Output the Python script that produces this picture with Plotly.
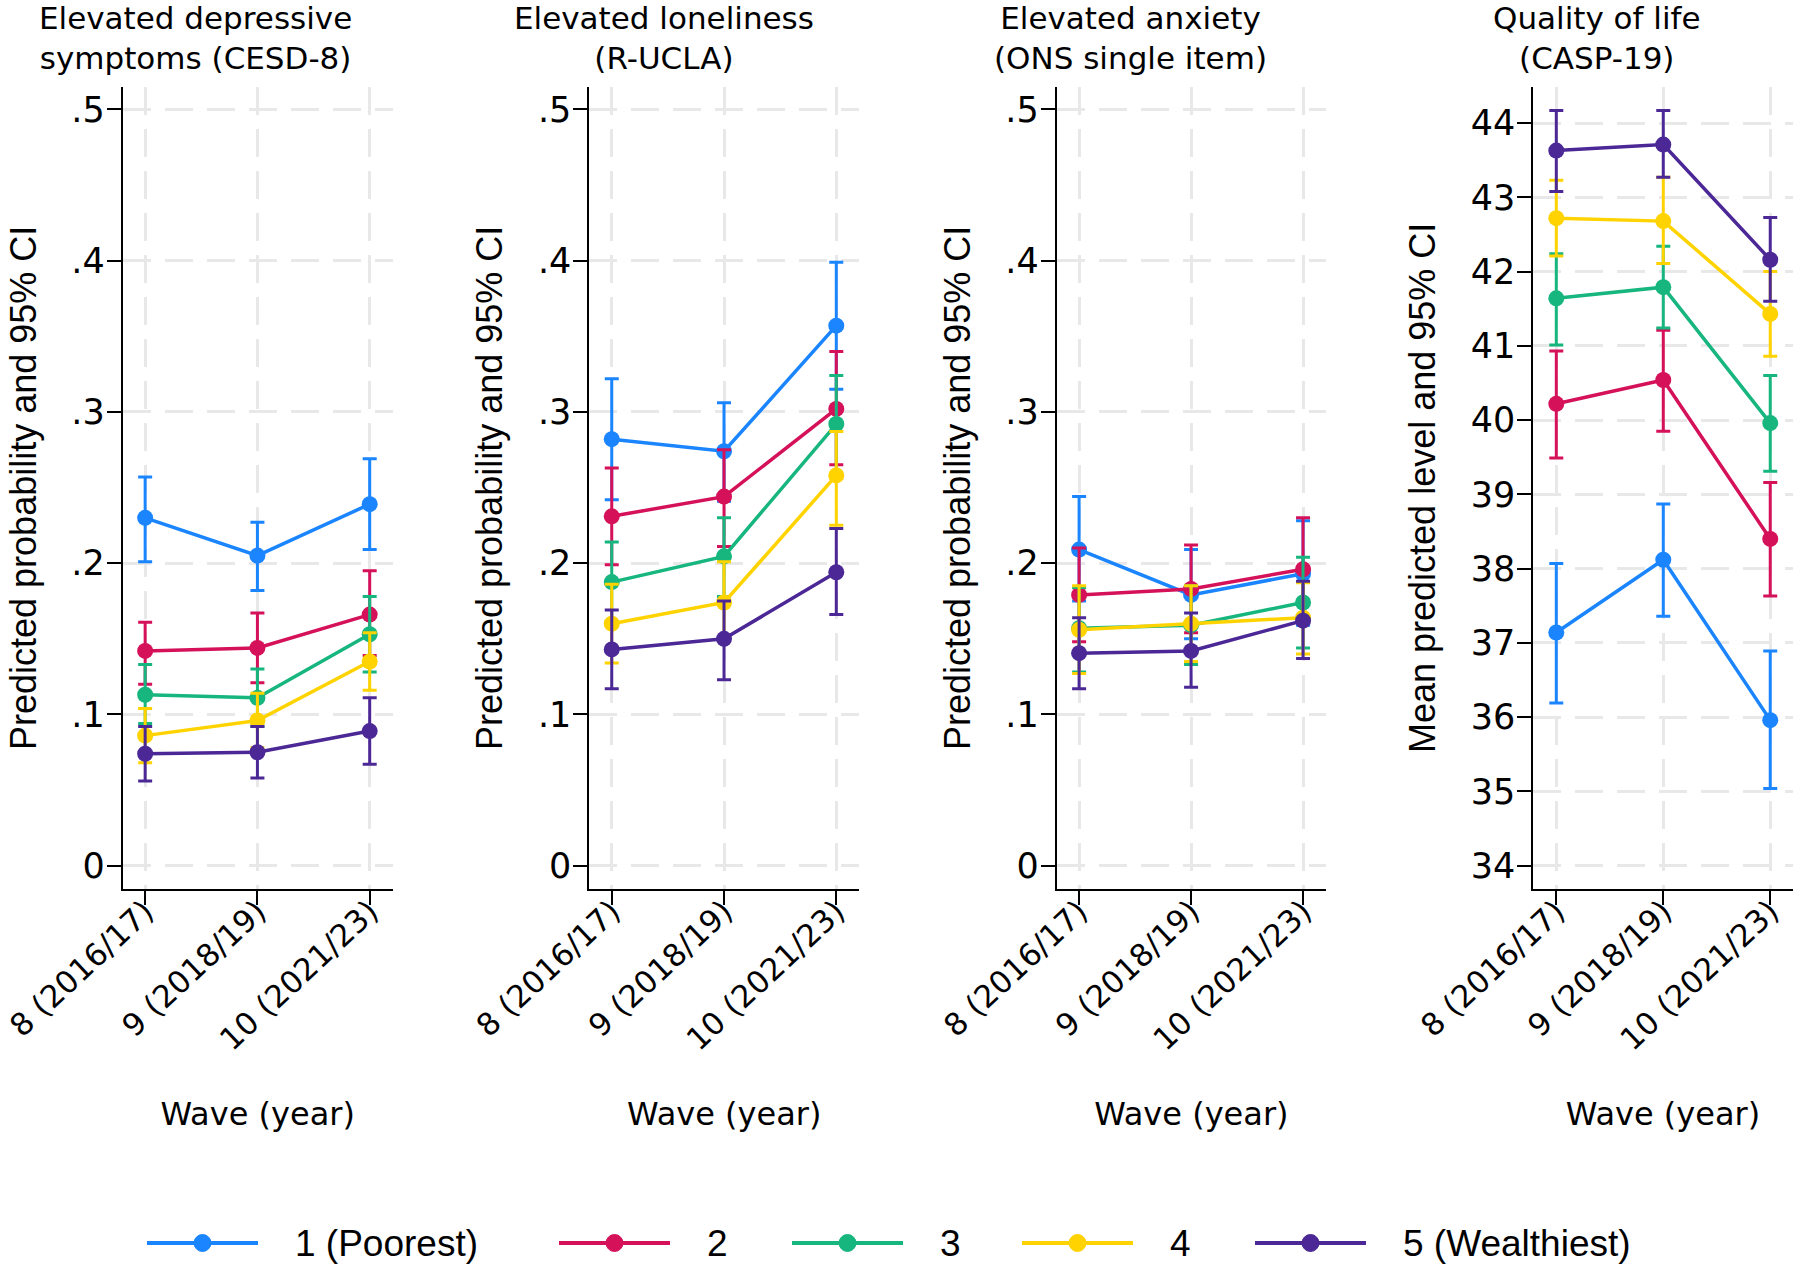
import plotly.graph_objects as go

# ---------------- data ----------------
waves = ["8 (2016/17)", "9 (2018/19)", "10 (2021/23)"]
groups = ["1 (Poorest)", "2", "3", "4", "5 (Wealthiest)"]
colors = ["#1A85FF", "#D41159", "#17B67F", "#FFD300", "#4B2896"]

panel_titles = [
    "Elevated depressive<br>symptoms (CESD-8)",
    "Elevated loneliness<br>(R-UCLA)",
    "Elevated anxiety<br>(ONS single item)",
    "Quality of life<br>(CASP-19)",
]
y_titles = [
    "Predicted probability and 95% CI",
    "Predicted probability and 95% CI",
    "Predicted probability and 95% CI",
    "Mean predicted level and 95% CI",
]
x_title = "Wave (year)"

prob_ticks = [0, 0.1, 0.2, 0.3, 0.4, 0.5]
prob_ticktext = ["0", ".1", ".2", ".3", ".4", ".5"]
casp_ticks = [34, 35, 36, 37, 38, 39, 40, 41, 42, 43, 44]
casp_ticktext = ["34", "35", "36", "37", "38", "39", "40", "41", "42", "43", "44"]

# Elevated depressive symptoms (CESD-8): estimate, lower, upper per group
cesd_est = [[0.230, 0.205, 0.239], [0.142, 0.144, 0.166], [0.113, 0.111, 0.153],
            [0.086, 0.096, 0.135], [0.074, 0.075, 0.089]]
cesd_lo = [[0.201, 0.182, 0.209], [0.120, 0.121, 0.139], [0.094, 0.092, 0.128],
           [0.068, 0.078, 0.116], [0.056, 0.058, 0.067]]
cesd_hi = [[0.257, 0.227, 0.269], [0.161, 0.167, 0.195], [0.133, 0.130, 0.178],
           [0.104, 0.114, 0.154], [0.092, 0.092, 0.111]]

# Elevated loneliness (R-UCLA)
ucla_est = [[0.282, 0.274, 0.357], [0.231, 0.244, 0.302], [0.1875, 0.2045, 0.292],
            [0.160, 0.174, 0.258], [0.143, 0.150, 0.194]]
ucla_lo = [[0.242, 0.241, 0.315], [0.199, 0.211, 0.265], [0.161, 0.178, 0.259],
           [0.134, 0.149, 0.225], [0.117, 0.123, 0.166]]
ucla_hi = [[0.322, 0.306, 0.399], [0.263, 0.275, 0.340], [0.214, 0.230, 0.324],
           [0.186, 0.201, 0.287], [0.169, 0.175, 0.223]]

# Elevated anxiety (ONS single item)
ons_est = [[0.209, 0.179, 0.193], [0.179, 0.183, 0.196], [0.157, 0.159, 0.174],
           [0.156, 0.160, 0.164], [0.1405, 0.142, 0.162]]
ons_lo = [[0.175, 0.150, 0.159], [0.148, 0.154, 0.162], [0.128, 0.133, 0.144],
          [0.127, 0.135, 0.140], [0.117, 0.118, 0.137]]
ons_hi = [[0.244, 0.209, 0.228], [0.210, 0.212, 0.230], [0.184, 0.185, 0.204],
          [0.185, 0.185, 0.187], [0.164, 0.167, 0.188]]

# Quality of life (CASP-19)
casp_est = [[37.14, 38.12, 35.96], [40.22, 40.54, 38.40], [41.64, 41.79, 39.96],
            [42.72, 42.68, 41.43], [43.63, 43.71, 42.16]]
casp_lo = [[36.19, 37.36, 35.04], [39.49, 39.85, 37.63], [41.01, 41.24, 39.31],
           [42.21, 42.11, 40.86], [43.08, 43.27, 41.60]]
casp_hi = [[38.07, 38.87, 36.89], [40.93, 41.21, 39.16], [42.24, 42.34, 40.60],
           [43.23, 43.27, 42.00], [44.17, 44.17, 42.73]]

panels = [
    (cesd_est, cesd_lo, cesd_hi),
    (ucla_est, ucla_lo, ucla_hi),
    (ons_est, ons_lo, ons_hi),
    (casp_est, casp_lo, casp_hi),
]

# ---------------- layout constants ----------------
W, H = 1800, 1272
x_dom_px = [(122.7, 392.7), (589.3, 859.3), (1056.7, 1326.0), (1533.3, 1792.7)]
x_ranges = [[-0.2, 2.205], [-0.2, 2.205], [-0.2, 2.205], [-0.215, 2.21]]
y_dom = [1 - 889 / H, 1 - 86.7 / H]
y_ranges = [[-0.0154, 0.515], [-0.0154, 0.515], [-0.0154, 0.515], [33.686, 44.49]]
title_cx = [195, 664, 1130, 1597]

FONT_WIDE = "DejaVu Sans"
FONT_REG = "Liberation Sans, Arial, sans-serif"
GRID = "#E8E8E8"

fig = go.Figure()

for p, (est, lo, hi) in enumerate(panels):
    xa = "x" if p == 0 else f"x{p + 1}"
    ya = "y" if p == 0 else f"y{p + 1}"
    for g in range(len(groups)):
        fig.add_trace(go.Scatter(
            x=waves, y=est[g], xaxis=xa, yaxis=ya,
            mode="lines+markers", name=groups[g],
            legendgroup=groups[g], showlegend=False,
            line=dict(color=colors[g], width=3.5),
            marker=dict(color=colors[g], size=16),
            error_y=dict(type="data", symmetric=False,
                         array=[h - e for h, e in zip(hi[g], est[g])],
                         arrayminus=[e - l for e, l in zip(est[g], lo[g])],
                         color=colors[g], thickness=3, width=7),
        ))

layout = dict(
    width=W, height=H,
    margin=dict(l=0, r=0, t=0, b=0),
    paper_bgcolor="white", plot_bgcolor="white",
    showlegend=False,
    font=dict(family=FONT_WIDE, color="black", size=30),
)

for p in range(4):
    sfx = "" if p == 0 else str(p + 1)
    x0, x1 = x_dom_px[p]
    is_prob = p < 3
    layout["xaxis" + sfx] = dict(
        domain=[x0 / W, x1 / W], anchor="y" + sfx,
        type="category", range=x_ranges[p],
        showline=True, linecolor="black", linewidth=2,
        ticks="outside", ticklen=14, tickwidth=2, tickcolor="black",
        tickangle=-43, tickfont=dict(family=FONT_WIDE, size=31, color="black"),
        ticklabelstandoff=-24,
        showgrid=True, gridcolor=GRID, gridwidth=3, griddash="28px,14px",
        zeroline=False, fixedrange=True,
        title=dict(text=x_title, font=dict(family=FONT_WIDE, size=32, color="black"),
                   standoff=46),
        automargin=False,
    )
    layout["yaxis" + sfx] = dict(
        domain=y_dom, anchor="x" + sfx, range=y_ranges[p],
        tickvals=prob_ticks if is_prob else casp_ticks,
        ticktext=prob_ticktext if is_prob else casp_ticktext,
        showline=True, linecolor="black", linewidth=2,
        ticks="outside", ticklen=14, tickwidth=2, tickcolor="black",
        tickfont=dict(family=FONT_WIDE, size=35, color="black"),
        ticklabelstandoff=-5,
        showgrid=True, gridcolor=GRID, gridwidth=3, griddash="28px,14px",
        zeroline=False, fixedrange=True,
        title=dict(text=y_titles[p], font=dict(family=FONT_REG, size=36, color="black"),
                   standoff=24),
        automargin=False,
    )

annotations = []
for p in range(4):
    annotations.append(dict(
        text=panel_titles[p], xref="paper", yref="paper",
        x=title_cx[p] / W, y=1 - 38 / H,
        xanchor="center", yanchor="middle", showarrow=False,
        font=dict(family=FONT_WIDE, size=31, color="black"),
    ))

# legend keys (drawn manually to reproduce long key lines)
leg_x = [147, 559, 792, 1022, 1255]
leg_len = 111
leg_y = 1 - 1243 / H
shapes = []
for g in range(len(groups)):
    xs = leg_x[g] / W
    xe = (leg_x[g] + leg_len) / W
    shapes.append(dict(type="line", xref="paper", yref="paper",
                       x0=xs, x1=xe, y0=leg_y, y1=leg_y,
                       line=dict(color=colors[g], width=4)))
    shapes.append(dict(type="circle", xref="paper", yref="paper",
                       xsizemode="pixel", ysizemode="pixel",
                       xanchor=(xs + xe) / 2, yanchor=leg_y,
                       x0=-8.5, x1=8.5, y0=-8.5, y1=8.5,
                       fillcolor=colors[g], line=dict(color=colors[g], width=1)))
    annotations.append(dict(
        text=groups[g], xref="paper", yref="paper",
        x=(leg_x[g] + leg_len + 35) / W, y=leg_y,
        xanchor="left", yanchor="middle", showarrow=False,
        font=dict(family=FONT_REG, size=37, color="black"),
    ))

layout["annotations"] = annotations
layout["shapes"] = shapes
fig.update_layout(**layout)

fig.write_html("out.html")
